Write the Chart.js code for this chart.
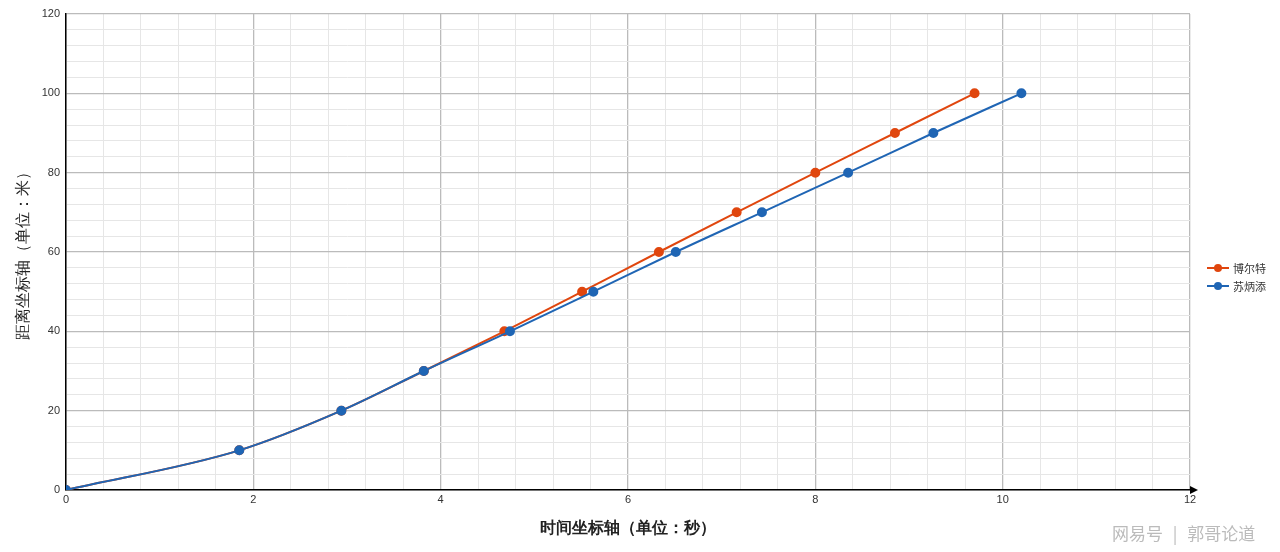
<!DOCTYPE html>
<html><head><meta charset="utf-8">
<script src="https://cdn.jsdelivr.net/npm/chart.js@4"></script>
<style>body{margin:0;background:#fff;font-family:"Noto Sans CJK SC";}
#w{position:relative;width:1280px;height:552px;}
.lg{position:absolute;left:1207px;font-size:11px;color:#333;display:flex;align-items:center;}
.lg span.l{display:inline-block;width:22px;height:2px;position:relative;margin-right:4px}
.lg span.l i{position:absolute;left:7px;top:-3px;width:8px;height:8px;border-radius:50%}
</style></head><body><div id="w"><canvas id="c" width="1280" height="552"></canvas>
<div class="lg" style="top:260px"><span class="l" style="background:#e0460e"><i style="background:#e0460e"></i></span>博尔特</div>
<div class="lg" style="top:278px"><span class="l" style="background:#1f65b4"><i style="background:#1f65b4"></i></span>苏炳添</div>
<div style="position:absolute;left:1112px;top:520px;font-size:17px;color:#bbb">网易号 <span style="margin:0 6px">|</span> 郭哥论道</div>
</div>
<script>
const distances=[0,10,20,30,40,50,60,70,80,90,100];
const boltTimes=[0,1.85,2.94,3.82,4.68,5.51,6.33,7.16,8.00,8.85,9.70];
const suTimes=[0,1.85,2.94,3.82,4.74,5.63,6.51,7.43,8.35,9.26,10.20];
const xLabels=[0,2,4,6,8,10,12];
const yLabels=[0,20,40,60,80,100,120];
const near=(v,s)=>Math.abs(v/s-Math.round(v/s))<1e-6;
const arrow={id:'arrow',afterDraw(ch){const c=ch.ctx,a=ch.chartArea;c.save();c.fillStyle='#000';c.beginPath();c.moveTo(a.right+8,a.bottom);c.lineTo(a.right,a.bottom-4);c.lineTo(a.right,a.bottom+4);c.fill();c.restore();}};
new Chart(document.getElementById('c'),{type:'line',plugins:[arrow],
data:{datasets:[
{label:'苏炳添',data:suTimes.map((t,i)=>({x:t,y:distances[i]})),borderColor:'#1f65b4',backgroundColor:'#1f65b4',borderWidth:2,pointRadius:4,tension:0.4,cubicInterpolationMode:'monotone'},
{label:'博尔特',data:boltTimes.map((t,i)=>({x:t,y:distances[i]})),borderColor:'#e0460e',backgroundColor:'#e0460e',borderWidth:2,pointRadius:4,tension:0.4,cubicInterpolationMode:'monotone',order:1}]},
options:{responsive:false,animation:false,layout:{padding:{left:10,right:90,top:14,bottom:10}},
plugins:{legend:{display:false},tooltip:{enabled:false}},
scales:{
x:{type:'linear',min:0,max:12,afterFit(s){s.height=52;},
ticks:{stepSize:0.4,autoSkip:false,maxRotation:0,color:'#333',font:{size:11},callback:v=>near(v,2)?String(Math.round(v)):''},
grid:{color:c=>near(c.tick.value,2)?'#bbb':'#e6e6e6',lineWidth:c=>near(c.tick.value,2)?1.3:1,drawTicks:false},
border:{color:'#000',width:1.5},
title:{display:true,text:'时间坐标轴（单位：秒）',font:{size:16,weight:'bold'},color:'#222',padding:{top:6}}},
y:{min:0,max:120,afterFit(s){s.width=56;},
ticks:{stepSize:4,autoSkip:false,color:'#333',font:{size:11},padding:6,callback:v=>near(v,20)?String(Math.round(v)):''},
grid:{color:c=>near(c.tick.value,20)?'#bbb':'#e6e6e6',lineWidth:c=>near(c.tick.value,20)?1.3:1,drawTicks:false},
border:{color:'#000',width:1.5},
title:{display:true,text:'距离坐标轴（单位：米）',font:{size:16},color:'#222',padding:{bottom:4}}}}}});
</script></body></html>
